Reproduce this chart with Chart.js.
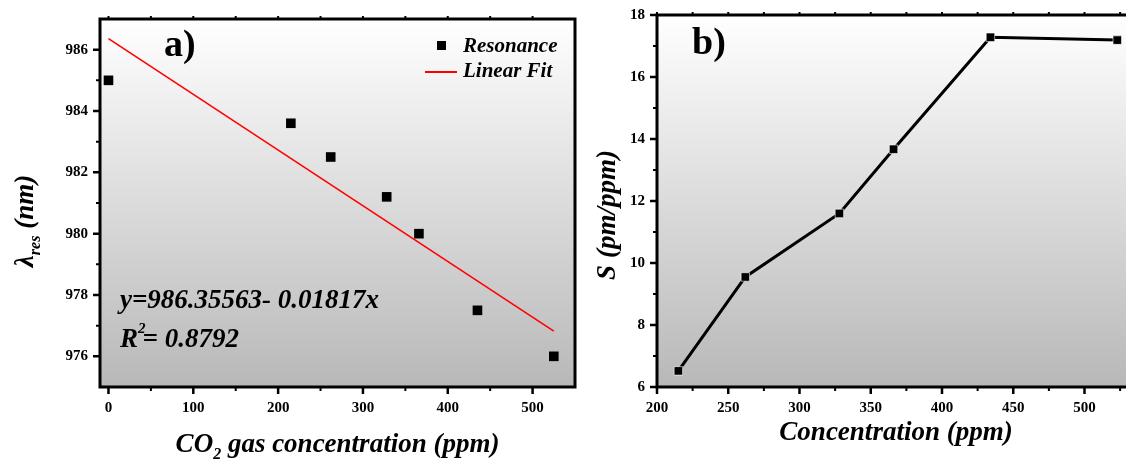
<!DOCTYPE html>
<html>
<head>
<meta charset="utf-8">
<script src="https://cdn.jsdelivr.net/npm/chart.js@4.4.0/dist/chart.umd.min.js"></script>
<style>
html, body { margin: 0; padding: 0; background: #fff; width: 1126px; height: 461px; overflow: hidden; position: relative; }
canvas { position: absolute; top: 0; }
#chartA { left: 0; }
#chartB { left: 590px; }
</style>
</head>
<body>
<canvas id="chartA" width="590" height="461"></canvas>
<canvas id="chartB" width="583" height="461"></canvas>
<script>
// a) resonance wavelength vs CO2 concentration
const concA = [0, 215, 262, 328, 366, 435, 525];
const lambdaRes = [985.0, 983.6, 982.5, 981.2, 980.0, 977.5, 976.0];
const fitX = [0, 525];
const fitY = [986.36, 976.82];
const xTicksA = [0, 100, 200, 300, 400, 500];
const xMinorA = [50, 150, 250, 350, 450];
const yTicksA = [976, 978, 980, 982, 984, 986];
const yMinorA = [977, 979, 981, 983, 985];

// b) sensitivity vs concentration
const concB = [215, 262, 328, 366, 434, 523];
const sens = [6.52, 9.55, 11.6, 13.67, 17.28, 17.19];
const xTicksB = [200, 250, 300, 350, 400, 450, 500, 550];
const xMinorB = [225, 275, 325, 375, 425, 475, 525];
const yTicksB = [6, 8, 10, 12, 14, 16, 18];
const yMinorB = [7, 9, 11, 13, 15, 17];

const serif = '"Liberation Serif", "Times New Roman", serif';

const txt = (ctx, s, x, y, size, style, align) => {
	ctx.font = `${style} ${size}px ${serif}`;
	ctx.textAlign = align || 'left';
	ctx.textBaseline = 'alphabetic';
	ctx.fillStyle = '#000';
	ctx.fillText(s, x, y);
	return ctx.measureText(s).width;
};

const measure = (ctx, s, size, style) => {
	ctx.font = `${style} ${size}px ${serif}`;
	return ctx.measureText(s).width;
};

// gradient background, frame and tick marks
const framePlugin = {
	id: 'frame',
	beforeDraw(chart) {
		const { ctx, chartArea: a } = chart;
		const g = ctx.createLinearGradient(0, a.top, 0, a.bottom);
		g.addColorStop(0, '#ffffff');
		g.addColorStop(1, '#b8b8b8');
		ctx.save();
		ctx.fillStyle = g;
		ctx.fillRect(a.left, a.top, a.right - a.left, a.bottom - a.top);
		ctx.restore();
	},
	afterDraw(chart, args, opts) {
		const { ctx, chartArea: a, scales: { x, y } } = chart;
		ctx.save();
		ctx.strokeStyle = '#000';
		ctx.lineWidth = 2.5;
		ctx.beginPath();
		opts.xMajor.forEach(v => { const p = x.getPixelForValue(v); ctx.moveTo(p, a.bottom); ctx.lineTo(p, a.bottom + 7); });
		opts.yMajor.forEach(v => { const p = y.getPixelForValue(v); ctx.moveTo(a.left, p); ctx.lineTo(a.left - 7, p); });
		ctx.stroke();
		ctx.lineWidth = 2;
		ctx.beginPath();
		opts.xMinor.forEach(v => { const p = x.getPixelForValue(v); ctx.moveTo(p, a.bottom); ctx.lineTo(p, a.bottom + 4); });
		opts.yMinor.forEach(v => { const p = y.getPixelForValue(v); ctx.moveTo(a.left, p); ctx.lineTo(a.left - 4, p); });
		// short marks on the top edge
		opts.xMajor.concat(opts.xMinor).forEach(v => { const p = x.getPixelForValue(v); ctx.moveTo(p, a.top); ctx.lineTo(p, a.top - 3); });
		ctx.stroke();
		ctx.lineWidth = 3;
		ctx.strokeRect(a.left, a.top, a.right - a.left, a.bottom - a.top);
		ctx.restore();
	}
};

const tickFont = { family: serif, size: 15, weight: 'bold' };

const axis = (min, max, values, isY, size) => ({
	type: 'linear',
	min: min,
	max: max,
	grid: { display: false, drawTicks: true, tickLength: 6 },
	border: { display: false },
	ticks: { color: '#000', font: tickFont, padding: 6, maxRotation: 0, autoSkip: false },
	afterBuildTicks: s => { s.ticks = values.map(v => ({ value: v })); },
	afterFit: s => { if (isY) s.width = size; else s.height = size; }
});

// panel a) texts
const textA = {
	id: 'textA',
	afterDraw(chart) {
		const { ctx, chartArea: a } = chart;
		ctx.save();
		txt(ctx, 'a)', 164, 56, 38, 'bold');

		// legend
		const ds = chart.data.datasets;
		ctx.fillStyle = ds[0].backgroundColor;
		ctx.fillRect(437, 41, 9, 9);
		txt(ctx, 'Resonance', 463, 52, 21, 'italic bold');
		ctx.strokeStyle = ds[1].borderColor;
		ctx.lineWidth = 2;
		ctx.beginPath();
		ctx.moveTo(425, 72);
		ctx.lineTo(457, 72);
		ctx.stroke();
		txt(ctx, 'Linear Fit', 463, 77, 21, 'italic bold');

		// fit equation
		txt(ctx, 'y=986.35563- 0.01817x', 120, 308, 27, 'italic bold');
		const w = txt(ctx, 'R', 120, 347, 27, 'italic bold');
		const w2 = txt(ctx, '2', 120 + w, 333, 15, 'italic bold');
		txt(ctx, '= 0.8792', 120 + w + w2 - 3, 347, 27, 'italic bold');

		// x title
		const p1 = 'CO', p2 = '2', p3 = ' gas concentration (ppm)';
		const tw = measure(ctx, p1, 27, 'italic bold') + measure(ctx, p2, 16, 'italic bold') + measure(ctx, p3, 27, 'italic bold');
		let x0 = (a.left + a.right) / 2 - tw / 2;
		x0 += txt(ctx, p1, x0, 452, 27, 'italic bold');
		x0 += txt(ctx, p2, x0, 459, 16, 'italic bold');
		txt(ctx, p3, x0, 452, 27, 'italic bold');

		// y title
		const q1 = '\u03bb', q2 = 'res', q3 = ' (nm)';
		const th = measure(ctx, q1, 27, 'italic bold') + measure(ctx, q2, 16, 'italic bold') + measure(ctx, q3, 27, 'italic bold');
		ctx.translate(33, 221 + th / 2);
		ctx.rotate(-Math.PI / 2);
		let y0 = 0;
		y0 += txt(ctx, q1, y0, 0, 27, 'italic bold');
		y0 += txt(ctx, q2, y0, 7, 16, 'italic bold');
		txt(ctx, q3, y0, 0, 27, 'italic bold');
		ctx.restore();
	}
};

// panel b) texts
const textB = {
	id: 'textB',
	afterDraw(chart) {
		const { ctx } = chart;
		ctx.save();
		txt(ctx, 'b)', 102, 54, 38, 'bold');
		txt(ctx, 'Concentration (ppm)', 306, 440, 27, 'italic bold', 'center');
		ctx.translate(25, 215);
		ctx.rotate(-Math.PI / 2);
		txt(ctx, 'S (pm/ppm)', 0, 0, 27, 'italic bold', 'center');
		ctx.restore();
	}
};

new Chart(document.getElementById('chartA'), {
	type: 'scatter',
	data: {
		datasets: [{
			label: 'Resonance',
			data: concA.map((c, i) => ({ x: c, y: lambdaRes[i] })),
			pointStyle: 'rect',
			pointRadius: 6.8,
			backgroundColor: '#000',
			borderColor: '#000',
			borderWidth: 0
		}, {
			label: 'Linear Fit',
			data: fitX.map((c, i) => ({ x: c, y: fitY[i] })),
			showLine: true,
			borderColor: '#ff0000',
			borderWidth: 1.6,
			pointRadius: 0
		}]
	},
	options: {
		responsive: false,
		animation: false,
		events: [],
		layout: { autoPadding: false, padding: { left: 0, top: 19, right: 15, bottom: 0 } },
		plugins: {
			legend: { display: false },
			tooltip: { enabled: false },
			frame: { xMajor: xTicksA, xMinor: xMinorA, yMajor: yTicksA, yMinor: yMinorA }
		},
		scales: {
			x: axis(-10, 550, xTicksA, false, 74),
			y: axis(975, 987, yTicksA, true, 100)
		}
	},
	plugins: [framePlugin, textA]
});

new Chart(document.getElementById('chartB'), {
	type: 'scatter',
	data: {
		datasets: [{
			label: 'S',
			data: concB.map((c, i) => ({ x: c, y: sens[i] })),
			showLine: true,
			borderColor: '#000',
			borderWidth: 3,
			pointStyle: 'rect',
			pointRadius: 6,
			backgroundColor: '#000',
			pointBorderColor: 'rgba(255,255,255,0.6)',
			pointBorderWidth: 1
		}]
	},
	options: {
		responsive: false,
		animation: false,
		events: [],
		layout: { autoPadding: false, padding: { left: 0, top: 15, right: 10, bottom: 0 } },
		plugins: {
			legend: { display: false },
			tooltip: { enabled: false },
			frame: { xMajor: xTicksB, xMinor: xMinorB, yMajor: yTicksB, yMinor: yMinorB }
		},
		scales: {
			x: axis(200, 550, xTicksB, false, 74),
			y: axis(6, 18, yTicksB, true, 67)
		}
	},
	plugins: [framePlugin, textB]
});
</script>
</body>
</html>
